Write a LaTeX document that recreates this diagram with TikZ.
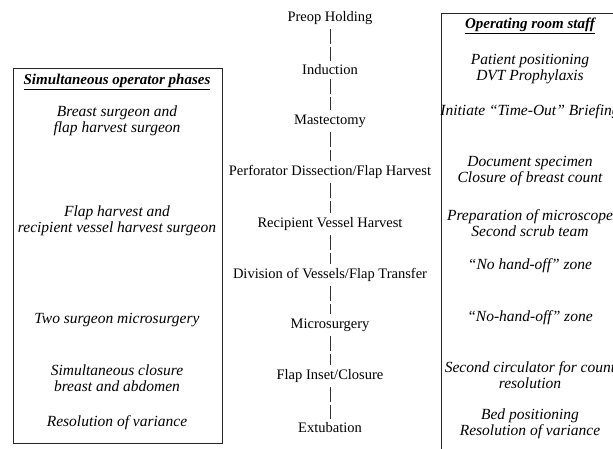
\documentclass[tikz,border=0pt]{standalone}
\usepackage{fontspec}
\setmainfont{Liberation Serif}
\usetikzlibrary{positioning}

\begin{document}
\begin{tikzpicture}[x=1pt, y=-1pt,
    phase/.style={font=\fontsize{14.5}{16}\selectfont, inner xsep=2pt, inner ysep=4pt},
    note/.style={align=center, font=\fontsize{15.5}{16}\selectfont\itshape, inner sep=1pt},
    head/.style={font=\fontsize{15}{16}\selectfont\bfseries\itshape, inner sep=1pt},
    frame/.style={draw=black!85, line width=0.9pt, inner sep=0pt},
    link/.style={draw=black!80, line width=0.6pt, dash pattern=on 15pt off 3pt}]
      \clip (0, 0) rectangle (613, 448);
      % boxes
      \node (opbox)[frame, minimum width=209pt, minimum height=375pt] at (117.5, 255.5) {};
      \node (staffbox)[frame, minimum width=190pt, minimum height=450pt] at (536, 238) {};
      % phases down the middle
      \node (p1)[phase] at (330, 18) {Preop Holding};
      \node (p2)[phase] at (330, 70) {Induction};
      \node (p3)[phase] at (330, 121) {Mastectomy};
      \node (p4)[phase] at (330, 172) {Perforator Dissection/Flap Harvest};
      \node (p5)[phase] at (330, 224) {Recipient Vessel Harvest};
      \node (p6)[phase] at (330, 275) {Division of Vessels/Flap Transfer};
      \node (p7)[phase] at (330, 325) {Microsurgery};
      \node (p8)[phase] at (330, 376) {Flap Inset/Closure};
      \node (p9)[phase] at (330, 428) {Extubation};
      \draw[link] (p1) -- (p2);
      \draw[link] (p2) -- (p3);
      \draw[link] (p3) -- (p4);
      \draw[link] (p4) -- (p5);
      \draw[link] (p5) -- (p6);
      \draw[link] (p6) -- (p7);
      \draw[link] (p7) -- (p8);
      \draw[link] (p8) -- (p9);
      % left column
      \node (ophead)[head] at (117, 82) {\underline{Simultaneous operator phases}};
      \node (op1)[note] at (117, 121) {Breast surgeon and\\flap harvest surgeon};
      \node (op2)[note] at (117, 221) {Flap harvest and\\recipient vessel harvest surgeon};
      \node (op3)[note] at (117, 320) {Two surgeon microsurgery};
      \node (op4)[note] at (117, 378) {Simultaneous closure\\breast and abdomen};
      \node (op5)[note] at (117, 423) {Resolution of variance};
      % right column
      \node (sthead)[head] at (530, 26) {\underline{Operating room staff}};
      \node (st1)[note] at (530, 69) {Patient positioning\\DVT Prophylaxis};
      \node (st2)[note] at (530, 112) {Initiate ``Time-Out'' Briefing};
      \node (st3)[note] at (530, 171) {Document specimen\\Closure of breast count};
      \node (st4)[note] at (530, 223) {Preparation of microscope\\Second scrub team};
      \node (st5)[note] at (530, 266) {``No hand-off'' zone};
      \node (st6)[note] at (530, 318) {``No-hand-off'' zone};
      \node (st7)[note] at (530, 375) {Second circulator for count\\resolution};
      \node (st8)[note] at (530, 424) {Bed positioning\\Resolution of variance};
    \end{tikzpicture}
\end{document}
